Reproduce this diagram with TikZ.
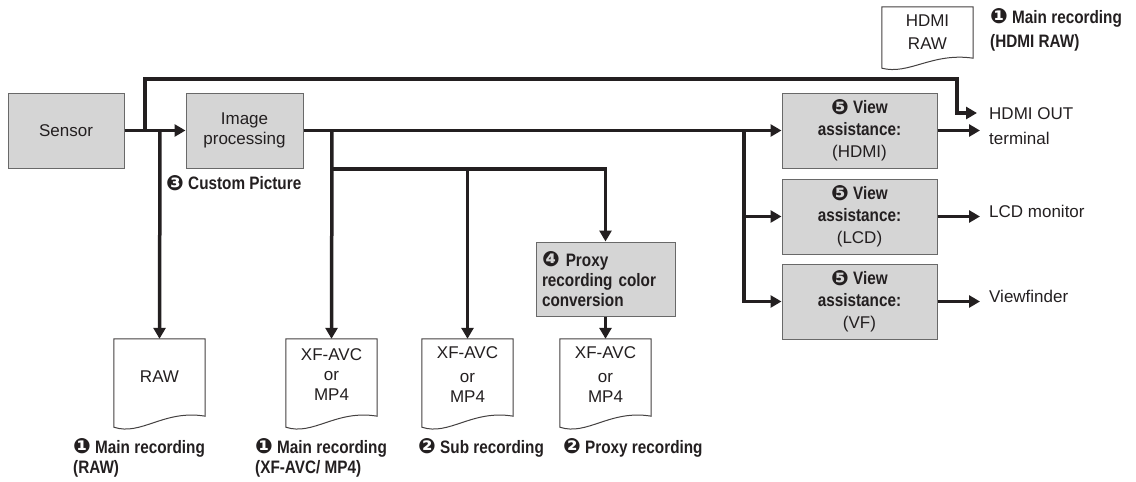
\documentclass[tikz,border=0pt]{standalone}
\usepackage{fontspec}
\setmainfont{Liberation Sans}
\newfontfamily\condb{Liberation Sans}[FakeStretch=0.85]
\newfontfamily\djv{DejaVu Sans}
\usetikzlibrary{arrows.meta,calc}
\definecolor{ink}{RGB}{35,31,32}
\definecolor{boxfill}{RGB}{213,213,213}
\definecolor{boxline}{RGB}{105,105,105}
\newcommand\cnum[1]{{\djv\fontsize{21}{15}\selectfont\raisebox{-0.5pt}{#1}}}
\newcommand\bl{\condb\bfseries\fontsize{18}{20}\selectfont}
\newcommand\rg{\normalfont\fontsize{17}{20}\selectfont}
\newcommand\docpath[1]{\draw[docline] (#1.north west) -- (#1.north east) -- ([yshift=11pt]#1.south east) .. controls ($(#1.south west)!0.55!(#1.south east)+(0pt,18pt)$) and ($(#1.south west)!0.3!(#1.south east)+(0pt,-9pt)$) .. (#1.south west) -- cycle;}
\begin{document}
\begin{tikzpicture}[x=1pt,y=-1pt,
  every node/.style={text=ink, font=\rg},
  procbox/.style={draw=boxline, line width=1pt, fill=boxfill, inner sep=2pt, align=center},
  viewbox/.style={procbox, minimum width=155pt, minimum height=75pt, inner ysep=0pt, font=\bl},
  flow/.style={draw=ink, line width=3.5pt},
  arr/.style={flow, -{Triangle[length=11pt,width=12pt]}},
  docline/.style={draw=ink!85, line width=1pt, fill=white},
  docarea/.style={minimum width=91pt, minimum height=88pt, inner sep=0pt},
  lbl/.style={align=left, anchor=west, font=\bl, inner sep=0pt},
  outlbl/.style={align=left, anchor=west, inner xsep=9pt, inner ysep=0pt}]
\useasboundingbox (0,0) rectangle (1136,482);

% processing boxes
\node[procbox, minimum width=116pt, minimum height=75pt] (sensor) at (66,130.5) {Sensor};
\node[procbox, minimum width=117pt, minimum height=75pt] (ip) at (244.5,130.5) {Image\\processing};
\node[procbox, minimum width=139pt, minimum height=74pt, align=left, text width=127pt, font=\bl] (proxy) at (605.5,279)
  {\cnum{❹} Proxy\\recording color\\conversion};
\node[viewbox] (vh) at (859.5,130.5) {\cnum{❺} View\\[2pt]assistance:\\[2pt]\rg(HDMI)};
\node[viewbox] (vl) at (859.5,216.5) {\cnum{❺} View\\[2pt]assistance:\\[2pt]\rg(LCD)};
\node[viewbox] (vv) at (859.5,301.5) {\cnum{❺} View\\[2pt]assistance:\\[2pt]\rg(VF)};

% documents
\node[docarea] (rawdoc) at (159.5,383) {};
\node[docarea] (xfdoc) at (331.5,383) {};
\node[docarea] (subdoc) at (467.5,383) {};
\node[docarea] (pxdoc) at (605.5,383) {};
\node[docarea, minimum height=61pt] (hrdoc) at (927.5,37.5) {};
\docpath{rawdoc}
\docpath{xfdoc}
\docpath{subdoc}
\docpath{pxdoc}
\draw[docline] (hrdoc.north west) -- (hrdoc.north east) -- ([yshift=10pt]hrdoc.south east) .. controls ($(hrdoc.south west)!0.55!(hrdoc.south east)+(0pt,16pt)$) and ($(hrdoc.south west)!0.3!(hrdoc.south east)+(0pt,-7pt)$) .. (hrdoc.south west) -- cycle;
\node at ([yshift=6pt]rawdoc.center) {RAW};
\node[align=center] at ([yshift=8pt]xfdoc.center) {XF-AVC\\or\\MP4};
\node[align=center] at ([yshift=8pt]subdoc.center) {XF-AVC\\[4pt]or\\MP4};
\node[align=center] at ([yshift=8pt]pxdoc.center) {XF-AVC\\[4pt]or\\MP4};
\node[align=center] at ([yshift=5pt]hrdoc.center) {HDMI\\[3pt]RAW};

% labels
\node[lbl] at (73,458) {\cnum{❶} Main recording\\(RAW)};
\node[lbl] at (255,458) {\cnum{❶} Main recording\\(XF-AVC/ MP4)};
\node[lbl] at (418,448) {\cnum{❷} Sub recording};
\node[lbl] at (563,448) {\cnum{❷} Proxy recording};
\node[lbl] at (166,183) {\cnum{❸} Custom Picture};
\node[lbl] at (990,30) {\cnum{❶} Main recording\\[4pt](HDMI RAW)};

% output labels
\node[outlbl] (hdmiout) at (980,126) {HDMI OUT\\[5pt]terminal};
\node[outlbl] (lcd) at (980,211) {LCD monitor};
\node[outlbl] (vf) at (980,296) {Viewfinder};

% junction coordinates
\coordinate (j1) at (145,130.5);
\coordinate (j2) at (160,130.5);
\coordinate (t1) at (957,79);
\coordinate (ho1) at (977,113);
\coordinate (j3) at (332,130.5);
\coordinate (j4) at (332,169);
\coordinate (j5) at (467.5,169);
\coordinate (j6) at (744,130.5);

% connectors
\draw[arr] (sensor.east) -- (ip.west);
\draw[arr, line join=miter] (j1) |- (t1) |- (ho1);
\draw[arr] (j2) -- (rawdoc.north);
\draw[arr] (ip.east) -- (vh.west);
\draw[arr] (j3) -- (xfdoc.north);
\draw[arr, line join=miter] (j4) -| (proxy.north);
\draw[arr] (j5) -- (subdoc.north);
\draw[arr] (proxy.south) -- (pxdoc.north);
\draw[arr, line join=miter] (j6) |- (vl.west);
\draw[arr, line join=miter] (j6) |- (vv.west);
\draw[arr] (vh.east) -- (vh.east -| hdmiout.west);
\draw[arr] (vl.east) -- (vl.east -| lcd.west);
\draw[arr] (vv.east) -- (vv.east -| vf.west);
\end{tikzpicture}
\end{document}
